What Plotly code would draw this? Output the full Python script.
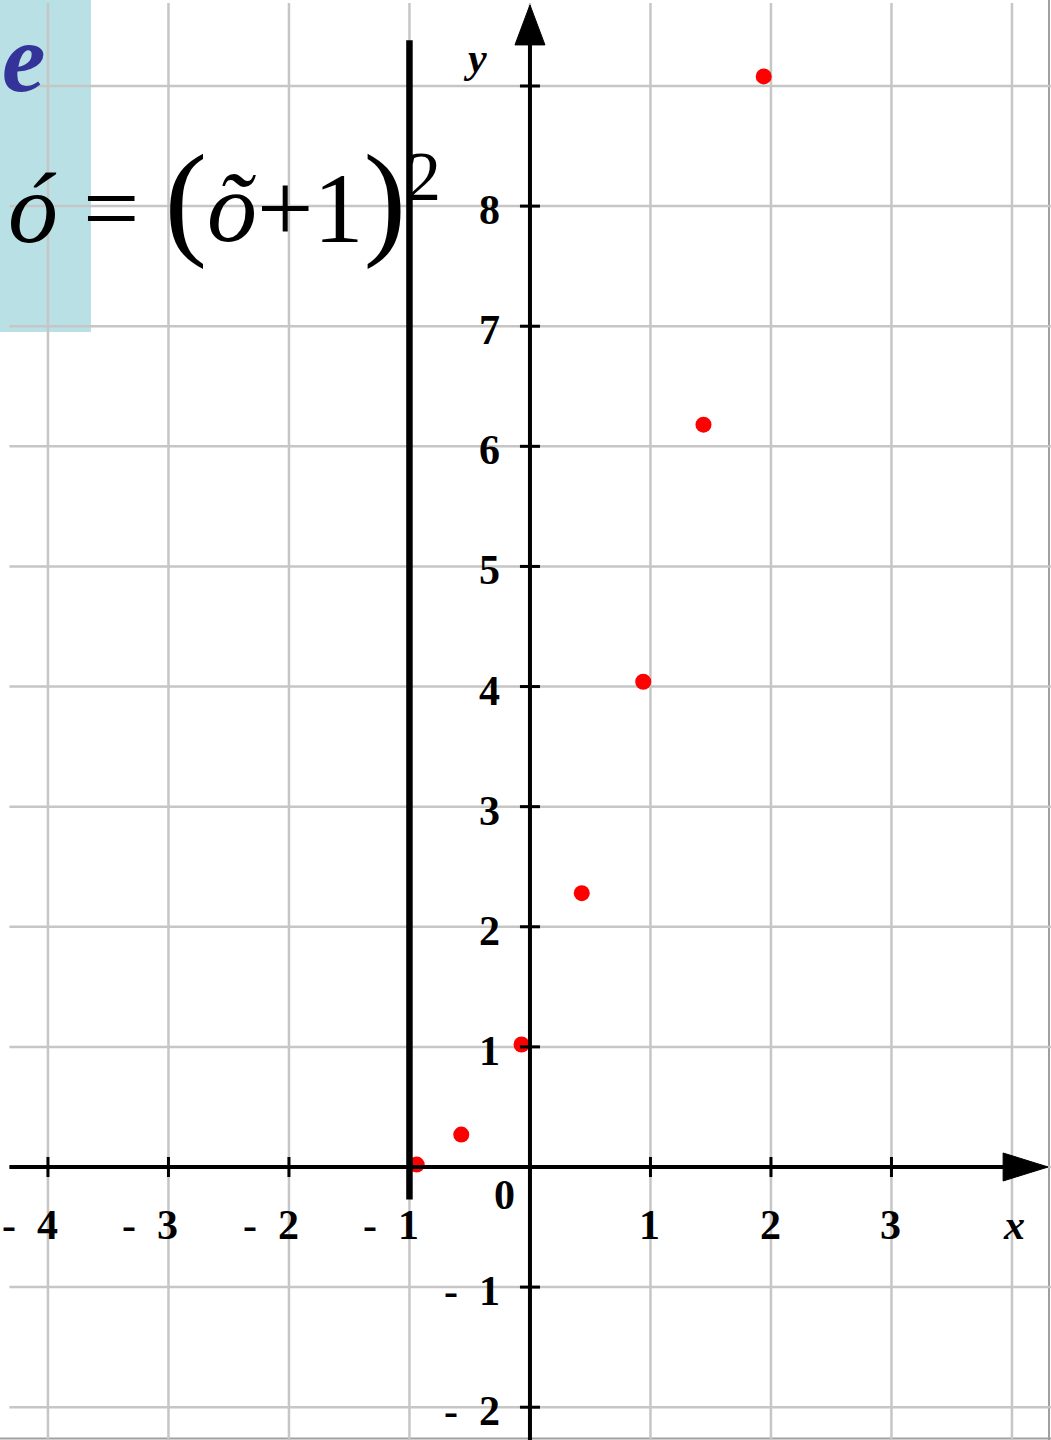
import plotly.graph_objects as go

# ---- data ----
point_x = [-0.94, -0.57, -0.07, 0.43, 0.94, 1.44, 1.94]
point_y = [0.02, 0.27, 1.02, 2.28, 4.04, 6.18, 9.08]

x_ticks = [-4, -3, -2, -1, 1, 2, 3]
x_tick_text = ["-  4", "-  3", "-  2", "-  1", "1", "2", "3"]
y_ticks = [-2, -1, 1, 2, 3, 4, 5, 6, 7, 8]
y_tick_text = ["-  2", "-  1", "1", "2", "3", "4", "5", "6", "7", "8"]

grid_x = [-4, -3, -2, -1, 0, 1, 2, 3, 4]
grid_y = [-2, -1, 0, 1, 2, 3, 4, 5, 6, 7, 8, 9]

vline_x = -1
vline_y = [-0.27, 9.38]

x_range = [-4.398, 4.324]
y_range = [-2.273, 9.716]

W, H = 1051, 1440
GRID = "#c6c6c6"
FONT = "Liberation Serif"


def px(x):
    return x / W


def py(y):
    return 1 - y / H


fig = go.Figure()

fig.add_trace(go.Scatter(
    x=point_x, y=point_y, mode="markers",
    marker=dict(color="#ff0000", size=16, line=dict(width=0)),
    hoverinfo="skip", showlegend=False,
))

shapes = []
# grid
for gx in grid_x:
    shapes.append(dict(type="line", xref="x", yref="y", x0=gx, x1=gx,
                       y0=y_range[0], y1=9.69, line=dict(color=GRID, width=2.5), layer="below"))
for gy in grid_y:
    shapes.append(dict(type="line", xref="x", yref="y", x0=-4.32, x1=x_range[1],
                       y0=gy, y1=gy, line=dict(color=GRID, width=2.5), layer="below"))
# border lines right/bottom
shapes.append(dict(type="line", xref="paper", yref="paper", x0=px(1049), x1=px(1049), y0=0, y1=1,
                   line=dict(color="#a0a0a0", width=2), layer="below"))
shapes.append(dict(type="line", xref="paper", yref="paper", x0=0, x1=1, y0=py(1438.5), y1=py(1438.5),
                   line=dict(color="#a0a0a0", width=2), layer="below"))

# teal box
shapes.append(dict(type="rect", xref="paper", yref="paper", x0=0, x1=px(91), y0=py(332), y1=1,
                   fillcolor="#b9e0e4", line=dict(width=0), layer="below"))

# axes lines
shapes.append(dict(type="line", xref="x", yref="y", x0=-4.32, x1=3.95, y0=0, y1=0,
                   line=dict(color="black", width=4)))
shapes.append(dict(type="line", xref="x", yref="y", x0=0, x1=0, y0=y_range[0], y1=9.36,
                   line=dict(color="black", width=4)))
# arrowheads
shapes.append(dict(type="path", xref="x", yref="y", xsizemode="pixel", ysizemode="pixel",
                   xanchor=4.30, yanchor=0, path="M 0 0 L -45 14 L -45 -14 Z",
                   fillcolor="black", line=dict(color="black", width=1)))
shapes.append(dict(type="path", xref="x", yref="y", xsizemode="pixel", ysizemode="pixel",
                   xanchor=0, yanchor=9.675, path="M 0 0 L -15 -40 L 15 -40 Z",
                   fillcolor="black", line=dict(color="black", width=1)))
# tick marks
for t in y_ticks + [9]:
    shapes.append(dict(type="line", xref="x", yref="y", xsizemode="pixel", xanchor=0,
                       x0=-10, x1=10, y0=t, y1=t, line=dict(color="black", width=3)))
for t in x_ticks:
    shapes.append(dict(type="line", xref="x", yref="y", ysizemode="pixel", yanchor=0,
                       y0=-10, y1=10, x0=t, x1=t, line=dict(color="black", width=3)))

# vertical thick line
shapes.append(dict(type="line", xref="x", yref="y", x0=vline_x, x1=vline_x,
                   y0=vline_y[0], y1=vline_y[1], line=dict(color="black", width=6.5)))

TICKFONT = dict(family=FONT, size=42, color="black")
annotations = []
for t, txt in zip(x_ticks, x_tick_text):
    annotations.append(dict(x=t, y=0, xref="x", yref="y", text=f"<b>{txt}</b>", showarrow=False,
                            xanchor="right", yanchor="middle", xshift=12, yshift=-58,
                            font=TICKFONT))
for t, txt in zip(y_ticks, y_tick_text):
    annotations.append(dict(x=0, y=t, xref="x", yref="y", text=f"<b>{txt}</b>", showarrow=False,
                            xanchor="right", yanchor="middle", xshift=-28, yshift=-4,
                            font=TICKFONT))
annotations.append(dict(x=0, y=0, xref="x", yref="y", text="<b>0</b>", showarrow=False,
                        xanchor="center", yanchor="middle", xshift=-25, yshift=-28,
                        font=TICKFONT))
annotations.append(dict(x=4, y=0, xref="x", yref="y", text="<b><i>x</i></b>", showarrow=False,
                        xanchor="center", yanchor="middle", xshift=2, yshift=-58,
                        font=TICKFONT))
annotations.append(dict(x=0, y=9, xref="x", yref="y", text="<b><i>y</i></b>", showarrow=False,
                        xanchor="center", yanchor="middle", xshift=-55, yshift=28,
                        font=TICKFONT))
# label e
annotations.append(dict(x=px(24), y=py(58), xref="paper", yref="paper", text="<b><i>e</i></b>",
                        showarrow=False, xanchor="center", yanchor="middle",
                        font=dict(family=FONT, size=98, color="#333399")))
# formula
annotations.append(dict(x=px(6), y=py(199), xref="paper", yref="paper",
                        text="<i>ó</i> = <span style='font-size:128px'>(</span><i>õ</i>+1"
                             "<span style='font-size:128px'>)</span><sup>2</sup>",
                        showarrow=False, xanchor="left", yanchor="middle",
                        font=dict(family=FONT, size=100, color="black")))

fig.update_layout(
    width=W, height=H, margin=dict(l=0, r=0, t=0, b=0),
    paper_bgcolor="white", plot_bgcolor="white",
    xaxis=dict(range=x_range, visible=False, fixedrange=True),
    yaxis=dict(range=y_range, visible=False, fixedrange=True),
    shapes=shapes, annotations=annotations, showlegend=False,
)

fig.write_html("out.html", config={"displayModeBar": False},
               post_script="document.body.style.margin='0';document.body.style.overflow='hidden';")
